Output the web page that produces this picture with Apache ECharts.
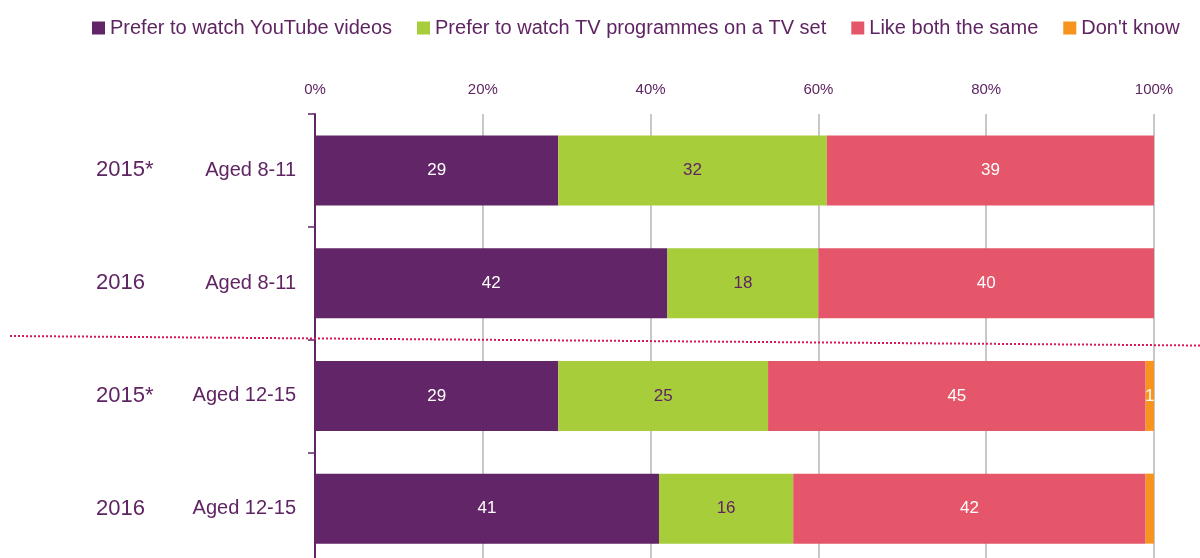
<!DOCTYPE html>
<html>
<head>
<meta charset="utf-8">
<script src="https://cdn.jsdelivr.net/npm/echarts@6/dist/echarts.min.js"></script>
<style>
  html, body { margin: 0; padding: 0; background: #fff; overflow: hidden; }
  #chart { width: 1200px; height: 570px; }
</style>
</head>
<body>
<div id="chart"></div>
<script>
// rows, top to bottom
const ageGroups = ['Aged 8-11', 'Aged 8-11', 'Aged 12-15', 'Aged 12-15']
const years = ['2015*', '2016', '2015*', '2016']

const youtube = [29, 42, 29, 41]
const tvSet = [32, 18, 25, 16]
const both = [39, 40, 45, 42]
const dontKnow = [0, 0, 1, 1]
const dontKnowLabelShown = [false, false, true, false]

const xTicks = [0, 20, 40, 60, 80, 100]

const textPurple = '#5f2462'
const font = 'Liberation Sans, Arial, sans-serif'

const chart = echarts.init(document.getElementById('chart'))

const makeSeries = (name, values, color, labelColor) => ({
  name,
  type: 'bar',
  stack: 'total',
  barWidth: 70,
  data: values,
  itemStyle: { color },
  label: {
    show: true,
    color: labelColor,
    fontSize: 17,
    fontFamily: font
  }
})

const series = [
  makeSeries('Prefer to watch YouTube videos', youtube, '#622567', '#fff'),
  makeSeries('Prefer to watch TV programmes on a TV set', tvSet, '#a8cd3a', textPurple),
  makeSeries('Like both the same', both, '#e5566a', '#fff'),
  makeSeries("Don't know", dontKnow.map((v, i) => ({
    value: v,
    label: { show: dontKnowLabelShown[i] }
  })), '#f7941d', '#fff')
]

chart.setOption({
  animation: false,
  textStyle: { fontFamily: font },
  legend: {
    top: 13,
    left: 87,
    itemWidth: 13,
    itemHeight: 13,
    itemGap: 25,
    icon: 'rect',
    textStyle: { color: textPurple, fontSize: 20, fontFamily: font },
    data: series.map(s => s.name)
  },
  grid: {
    left: 315,
    width: 839,
    top: 114,
    height: 451
  },
  xAxis: {
    type: 'value',
    position: 'top',
    min: 0,
    max: 100,
    interval: 20,
    axisLine: { show: false },
    axisTick: { show: false },
    axisLabel: {
      color: textPurple,
      fontSize: 15,
      margin: 17,
      formatter: v => xTicks.includes(v) ? v + '%' : ''
    },
    splitLine: { lineStyle: { color: '#c8c8c8', width: 2 } }
  },
  yAxis: [
    {
      type: 'category',
      inverse: true,
      data: ageGroups,
      axisLine: { show: true, lineStyle: { color: '#622567', width: 2 } },
      axisTick: { show: true, length: 7, lineStyle: { color: '#622567', width: 1.5 } },
      axisLabel: { color: textPurple, fontSize: 20, margin: 19 }
    },
    {
      type: 'category',
      inverse: true,
      position: 'left',
      data: years,
      axisLine: { show: false },
      axisTick: { show: false },
      axisLabel: { color: textPurple, fontSize: 22, margin: 219, align: 'left' }
    }
  ],
  graphic: [
    {
      type: 'line',
      silent: true,
      shape: { x1: 10, y1: 336, x2: 1200, y2: 345.5 },
      style: { stroke: '#d6185a', lineWidth: 2, lineDash: [2, 2] },
      z: 100
    }
  ],
  series
})
</script>
</body>
</html>
